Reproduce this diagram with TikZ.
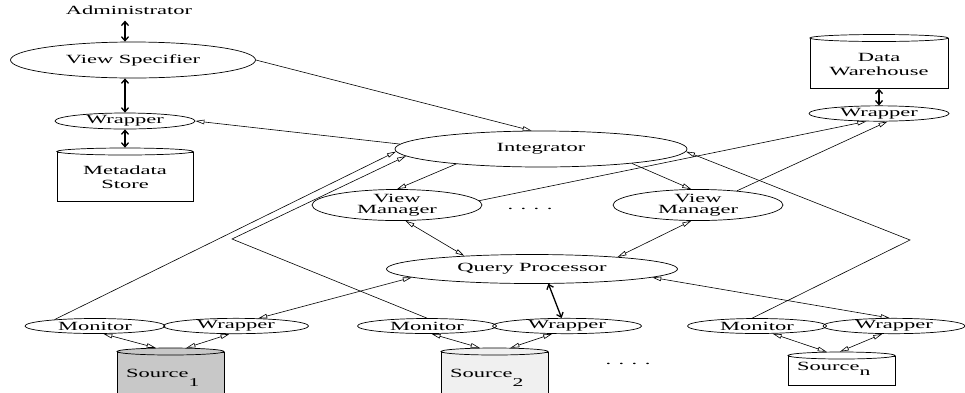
\documentclass[tikz,border=0pt]{standalone}
\usepackage{fontspec}
\setmainfont{Liberation Serif}[FakeStretch=1.8]
\usetikzlibrary{shapes.geometric,arrows.meta}
\definecolor{srcA}{RGB}{200,200,200}
\definecolor{srcB}{RGB}{240,240,240}
\begin{document}
\begin{tikzpicture}[x=1pt,y=-1pt,
  every node/.style={font=\fontsize{12.5}{13}\selectfont},
  ell/.style={ellipse,draw,inner sep=0pt,line width=0.7pt},
  body/.style={draw,line width=0.7pt,inner sep=0pt,anchor=north},
  topell/.style={ellipse,draw,inner sep=0pt,line width=0.7pt,minimum height=7pt},
  ar/.style={line width=0.6pt,-{Triangle[open,length=9pt,width=4.5pt]}},
  biar/.style={line width=0.6pt,{Triangle[open,length=9pt,width=4.5pt]}-{Triangle[open,length=9pt,width=4.5pt]}},
  thk/.style={line width=1.3pt,{Straight Barb[length=4pt,width=7pt]}-{Straight Barb[length=4pt,width=7pt]}},
  two/.style={align=center,font=\fontsize{12.5}{11}\selectfont}]
\useasboundingbox (0,0) rectangle (965,392);

% top left
\node[inner sep=6pt] (admin) at (129,10) {Administrator};
\node[ell,minimum width=245pt,minimum height=36pt] (vs) at (133,60) {View Specifier};
\node[ell,minimum width=140pt,minimum height=16pt] (wl) at (125,121) {Wrapper};
\node[body,minimum width=136pt,minimum height=49.5pt] (ms) at (125,151.5) {};
\node[topell,fill=white,minimum width=136pt] (mstop) at (125,151.5) {};
\node[align=center,font=\fontsize{12.5}{14}\selectfont] (mstext) at (125,177) {Metadata\\Store};

% data warehouse
\node[body,minimum width=138pt,minimum height=50pt] (dw) at (879,38) {};
\node[topell,fill=white,minimum width=138pt] (dwtop) at (879,38) {};
\node[align=center,font=\fontsize{12.5}{14}\selectfont] (dwtext) at (879,64) {Data\\Warehouse};
\node[ell,minimum width=140pt,minimum height=15pt] (wr) at (879,113.5) {Wrapper};

% middle
\node[ell,minimum width=292pt,minimum height=36pt] (integ) at (541,149) {Integrator};
\node[ell,two,minimum width=170pt,minimum height=29pt] (vm1) at (397,205) {View\\Manager};
\node[ell,two,minimum width=170pt,minimum height=29pt] (vm2) at (698,205) {View\\Manager};
\node[anchor=base] (dots1) at (530,209.5) {. . . .};
\node[ell,minimum width=291pt,minimum height=29pt] (qp) at (532,269) {Query Processor};

% bottom row
\node[ell,minimum width=140pt,minimum height=15pt] (mon1) at (95,326) {Monitor};
\node[ell,minimum width=145pt,minimum height=15pt] (wrap1) at (236,326) {Wrapper};
\node[ell,minimum width=139pt,minimum height=15pt] (mon2) at (427,326) {Monitor};
\node[ell,minimum width=149pt,minimum height=15pt] (wrap2) at (567,326) {Wrapper};
\node[ell,minimum width=139pt,minimum height=15pt] (monn) at (757,326) {Monitor};
\node[ell,minimum width=142pt,minimum height=15pt] (wrapn) at (894,326) {Wrapper};

% sources
\node[body,fill=srcA,minimum width=107pt,minimum height=45pt] (src1) at (170.5,351.5) {};
\node[topell,fill=srcA,minimum width=107pt] (src1top) at (170.5,351.5) {};
\node[anchor=base west,inner sep=0pt] (s1t) at (126,377) {Source\raisebox{-9pt}{\fontsize{12}{12}\selectfont 1}};
\node[body,fill=srcB,minimum width=107pt,minimum height=45pt] (src2) at (494.5,351.5) {};
\node[topell,fill=srcB,minimum width=107pt] (src2top) at (494.5,351.5) {};
\node[anchor=base west,inner sep=0pt] (s2t) at (450,377) {Source\raisebox{-9pt}{\fontsize{12}{12}\selectfont 2}};
\node[anchor=base] (dots2) at (628,364) {. . . .};
\node[body,fill=white,minimum width=107pt,minimum height=29.5pt] (srcn) at (841.5,355.5) {};
\node[topell,fill=white,minimum width=107pt] (srcntop) at (841.5,355.5) {};
\node[anchor=base west,inner sep=0pt] (snt) at (797,370) {Source\raisebox{-5pt}{\fontsize{12}{12}\selectfont n}};

% thick arrows
\draw[thk] (wl.north |- admin.south) -- (wl.north |- vs.north);
\draw[thk] (wl.north |- vs.south) -- (wl.north);
\draw[thk] (wl.south) -- (mstop.north);
\draw[thk] (dw.south) -- (wr.north);
\draw[thk] (qp.318) -- (wrap2.124);

% thin connectors
\draw[ar] (vs.east) -- (integ.117);
\draw[ar] (integ.178) -- (wl.east);
\draw[ar] (integ.190) -- (vm1.north);
\draw[ar] (integ.351) -- (vm2.113);
\draw[ar] (vm1.3) -- (wr.212);
\draw[ar] (vm2.20) -- (wr.317);
\draw[biar] (vm1.298) -- (qp.169);
\draw[biar] (vm2.247) -- (qp.8);
\draw[biar] (qp.184) -- (wrap1.19);
\draw[biar] (qp.356) -- (wrapn.118);
\draw[ar] (mon1.171) -- (integ.181);
\coordinate (bendL) at (232,239);
\draw[ar] (mon2.north) -- (bendL) -- (integ.183);
\coordinate (bendR) at (910,240);
\draw[ar] (monn.122) -- (bendR) -- (integ.359);
\draw[biar] (mon1.317) -- (src1top.166);
\draw[biar] (wrap1.231) -- (src1top.13);
\draw[biar] (mon2.300) -- (src2top.166);
\draw[biar] (wrap2.208) -- (src2top.13);
\draw[biar] (monn.334) -- (srcntop.166);
\draw[biar] (wrapn.214) -- (srcntop.113);
\end{tikzpicture}
\end{document}
